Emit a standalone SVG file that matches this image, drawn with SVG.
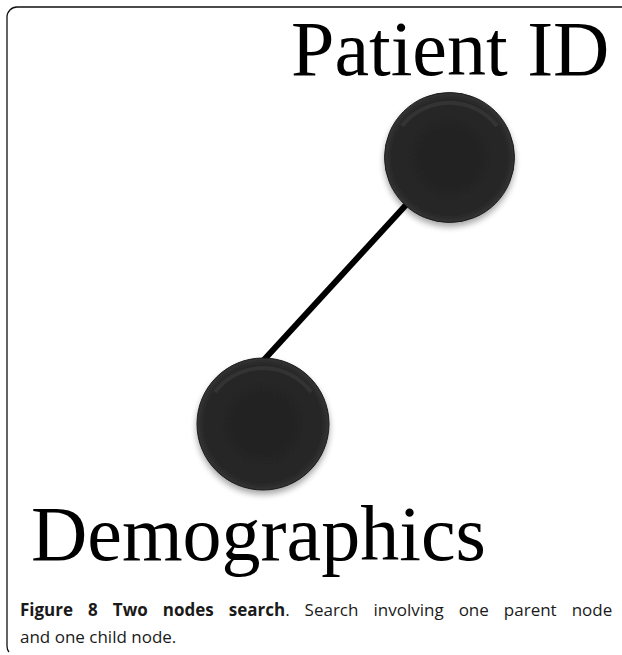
<svg xmlns="http://www.w3.org/2000/svg" width="622" height="655" viewBox="0 0 622 655">
  <style>
    .label { font-family: "Liberation Serif", "Times New Roman", serif; font-size: 78px; fill: #000; }
    .caption { font-family: "Open Sans", "Noto Sans", sans-serif; font-size: 17px; fill: #1a1a1a; }
    .caption .b { font-weight: bold; }
    .frame { fill: none; stroke: #111; stroke-width: 1.3; }
    .edge { stroke: #000; stroke-width: 6; stroke-linecap: butt; }
    .ball { fill: url(#ballFill); stroke: #1a1a1a; stroke-width: 1; filter: url(#soft); }
    .rim { fill: none; stroke: #444; stroke-width: 4; opacity: 0.45; }
  </style>
  <defs>
    <radialGradient id="ballFill" cx="0.5" cy="0.5" r="0.5">
      <stop offset="0" stop-color="#222"/>
      <stop offset="0.88" stop-color="#262626"/>
      <stop offset="1" stop-color="#333"/>
    </radialGradient>
    <filter id="soft" x="-20%" y="-20%" width="140%" height="150%">
      <feGaussianBlur in="SourceAlpha" stdDeviation="3"/>
      <feOffset dy="4" result="sh"/>
      <feComponentTransfer in="sh" result="shade"><feFuncA type="linear" slope="0.35"/></feComponentTransfer>
      <feMerge><feMergeNode in="shade"/><feMergeNode in="SourceGraphic"/></feMerge>
    </filter>
  </defs>

  <rect width="622" height="655" fill="#fff"/>

  <!-- caption frame -->
  <path class="frame" d="M622 7 H17 A10 10 0 0 0 7 17 V646 Q7 650 9 652"/>

  <!-- connector -->
  <g id="connectors">
    <line class="edge" x1="449" y1="158" x2="262" y2="362"/>
  </g>

  <g id="node-patient-id">
    <circle class="ball" cx="449.5" cy="157.5" r="65"/>
    <path class="rim" d="M402 126 A60 60 0 0 1 497 126"/>
    <text class="label" x="291" y="75">Patient ID</text>
  </g>

  <g id="node-demographics">
    <circle class="ball" cx="263" cy="424" r="66"/>
    <path class="rim" d="M215 392 A60 60 0 0 1 311 392"/>
    <text class="label" x="31" y="560">Demographics</text>
  </g>

  <text class="caption" x="20" y="616" word-spacing="10.6"><tspan class="b">Figure 8 Two nodes search</tspan>. Search involving one parent node</text>
  <text class="caption" x="20" y="643">and one child node.</text>
</svg>
